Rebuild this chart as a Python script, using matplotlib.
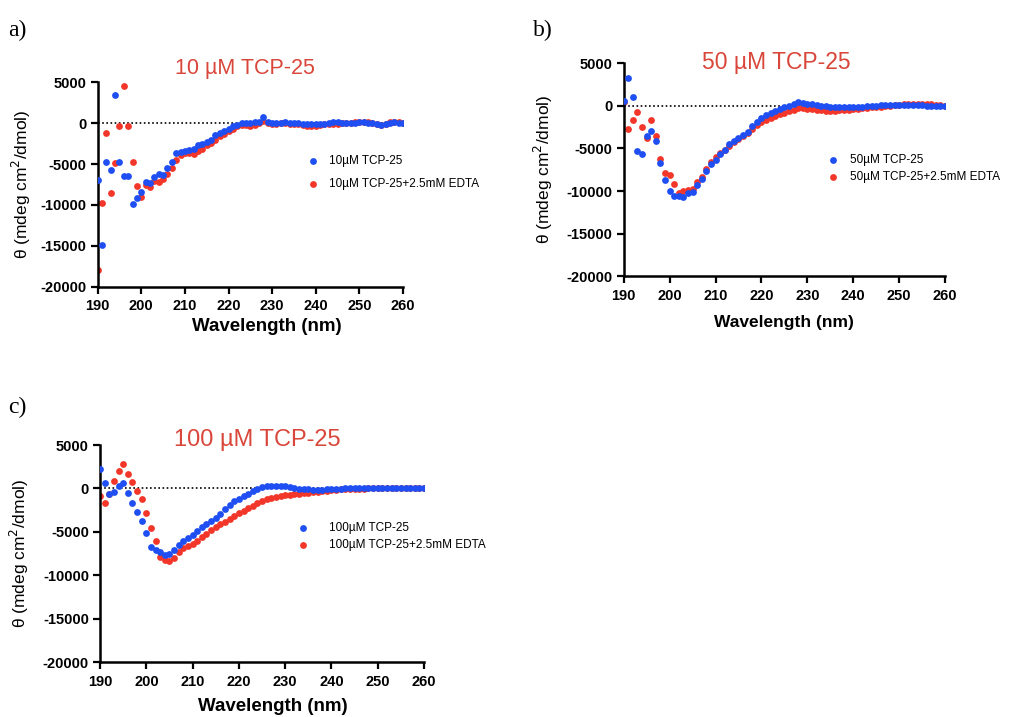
import numpy as np
import matplotlib.pyplot as plt

plt.rcParams['font.family'] = ['Liberation Sans', 'DejaVu Sans']
plt.rcParams['axes.unicode_minus'] = False

# CD spectra, one point per nm from 190 to 260 nm
wavelength = np.arange(190, 261)

a_tcp = [-6900, -14900, -4700, -5700, 3400, -4800, -6500, -6500, -9900, -9200,
         -8400, -7200, -7300, -6600, -6200, -6300, -5500, -4800, -3700, -3500,
         -3400, -3300, -3100, -2700, -2600, -2300, -2000, -1500, -1200, -900,
         -700, -400, -200, 0, 0, 50, 100, 200, 700, 200,
         0, 0, 50, 200, 50, 0, 0, -50, -50, -100,
         -100, -50, -50, 0, 100, 100, 50, 0, 0, 50,
         100, 100, 50, 0, -100, -200, -150, 0, 100, 50, 0]
a_edta = [-18000, -9800, -1200, -8500, -4900, -300, 4500, -300, -4700, -7700,
          -9000, -7500, -7800, -7100, -7200, -6800, -6200, -5500, -4500, -3900,
          -3700, -3600, -3800, -3400, -3100, -2700, -2400, -2000, -1600, -1300,
          -1000, -700, -400, -200, -250, -300, -200, 0, 250, 50,
          -50, -50, 0, 0, -50, -100, -150, -250, -350, -400,
          -300, -200, -150, -150, -100, -50, 0, 0, 50, 100,
          200, 200, 150, 50, -50, -200, -100, 100, 200, 100, 0]

b_tcp = [590, 3300, 1000, -5270, -5600, -3550, -3000, -4100, -6760, -8700,
         -10000, -10550, -10600, -10700, -10250, -10050, -9260, -8600, -7620, -6800,
         -6330, -5700, -5200, -4500, -4100, -3750, -3440, -3050, -2340, -1880,
         -1450, -1100, -850, -600, -400, -200, 0, 250, 450, 350,
         250, 150, 100, 0, -50, -100, -150, -150, -200, -200,
         -150, -150, -100, -50, 0, 0, 50, 100, 100, 100,
         100, 100, 100, 50, 50, 50, 0, -50, 0, 0, 0]
b_edta = [470, -2770, -1640, -780, -2460, -3750, -1680, -3550, -6200, -7930,
          -8100, -9150, -10250, -10000, -9850, -9700, -8900, -8360, -7400, -6560,
          -5980, -5550, -5200, -4700, -4300, -3900, -3600, -3200, -2700, -2260,
          -1900, -1700, -1400, -1200, -1000, -800, -600, -450, -300, -300,
          -350, -400, -500, -550, -600, -600, -600, -550, -500, -450,
          -400, -350, -300, -250, -200, -150, -100, -50, 0, 50,
          100, 150, 200, 250, 250, 250, 200, 150, 100, 50, 0]

c_tcp = [2280, 670, -590, -430, 280, 670, -470, -1650, -2760, -3740,
         -5120, -6800, -7050, -7280, -7680, -7520, -7130, -6570, -6020, -5700,
         -5400, -4920, -4450, -4050, -3740, -3350, -2950, -2360, -1890, -1500,
         -1180, -870, -590, -310, -80, 150, 250, 300, 300, 300,
         250, 150, 50, -50, -100, -100, -150, -150, -150, -100,
         -100, -50, -50, 0, 0, 50, 50, 50, 50, 50,
         50, 50, 50, 50, 50, 50, 50, 50, 50, 50, 50]
c_edta = [-870, -1690, -590, 900, 1970, 2870, 1650, 790, -310, -1260,
          -2830, -4600, -6100, -7950, -8270, -8350, -8070, -7280, -6900, -6690,
          -6420, -6020, -5630, -5240, -4840, -4450, -4130, -3820, -3500, -3150,
          -2870, -2560, -2240, -2000, -1700, -1400, -1250, -1100, -950, -850,
          -780, -720, -660, -600, -550, -500, -450, -380, -320, -260,
          -200, -160, -120, -100, -80, -60, -40, -20, 0, 0,
          0, 0, 50, 50, 50, 50, 50, 50, 50, 50, 50]

xticks = [190, 200, 210, 220, 230, 240, 250, 260]
yticks = [5000, 0, -5000, -10000, -15000, -20000]

blue = '#1f4ff2'
red = '#f2372a'
title_red = '#d9463a'

# per panel: letter, title, legend prefix, data, axes rect, letter pos,
# title centre (figure coords), title size, xlabel pos/size,
# legend anchor, legend spacing, legend text pad
panels = [
    dict(letter='a)', title='10 µM TCP-25', conc='10µM', tcp=a_tcp, edta=a_edta,
         rect=[0.0954, 0.6001, 0.2981, 0.2851], lpos=(0.008, 0.972),
         tpos=(0.239, 0.905), tsize=15.5, xlab=(0.555, -0.197), xsize=13.5,
         leg=(0.294, 0.792), lsp=0.95, lpad=0.9),
    dict(letter='b)', title='50 µM TCP-25', conc='50µM', tcp=b_tcp, edta=b_edta,
         rect=[0.6091, 0.6144, 0.3138, 0.2976], lpos=(0.520, 0.972),
         tpos=(0.758, 0.913), tsize=16.5, xlab=(0.5, -0.218), xsize=12.5,
         leg=(0.802, 0.794), lsp=0.45, lpad=0.9),
    dict(letter='c)', title='100 µM TCP-25', conc='100µM', tcp=c_tcp, edta=c_edta,
         rect=[0.0977, 0.0767, 0.3164, 0.3026], lpos=(0.008, 0.447),
         tpos=(0.251, 0.386), tsize=17, xlab=(0.534, -0.207), xsize=13.5,
         leg=(0.284, 0.280), lsp=0.45, lpad=1.7),
]

fig = plt.figure(figsize=(10.24, 7.17), dpi=100)

for p in panels:
    ax = fig.add_axes(p['rect'])
    ax.axhline(0, color='k', linestyle=(0, (1, 1.5)), linewidth=1.2, zorder=1)
    p_edta = ax.scatter(wavelength, p['edta'], s=24, color=red, linewidths=0, zorder=2)
    p_tcp = ax.scatter(wavelength, p['tcp'], s=24, color=blue, linewidths=0, zorder=3)

    ax.set_xlim(190, 260)
    ax.set_ylim(-20000, 5000)
    ax.set_xticks(xticks)
    ax.set_xticklabels([str(t) for t in xticks], fontsize=10.5, fontweight='bold')
    ax.set_yticks(yticks)
    ax.set_yticklabels([str(t) for t in yticks], fontsize=10.5, fontweight='bold')
    ax.tick_params(direction='out', length=5, width=1.6)
    ax.tick_params(axis='x', pad=4)
    ax.tick_params(axis='y', pad=3)
    for side in ['top', 'right']:
        ax.spines[side].set_visible(False)
    for side in ['left', 'bottom']:
        ax.spines[side].set_linewidth(1.8)

    ax.set_xlabel('Wavelength (nm)', fontsize=p['xsize'], fontweight='bold', va='center')
    ax.xaxis.set_label_coords(*p['xlab'])
    ax.set_ylabel('θ (mdeg cm$^2$/dmol)', fontsize=12.5, va='center')
    ax.yaxis.set_label_coords(-0.25, 0.5)

    fig.text(p['tpos'][0], p['tpos'][1], p['title'], color=title_red,
             fontsize=p['tsize'], ha='center', va='center')
    fig.text(p['lpos'][0], p['lpos'][1], p['letter'], fontsize=17,
             family='Liberation Serif', va='top', ha='left')

    ax.legend([p_tcp, p_edta], [p['conc'] + ' TCP-25', p['conc'] + ' TCP-25+2.5mM EDTA'],
              loc='upper left', bbox_to_anchor=p['leg'],
              bbox_transform=fig.transFigure, frameon=False, fontsize=8.5,
              handletextpad=p['lpad'], labelspacing=p['lsp'], borderpad=0,
              handlelength=1.0, markerscale=1.0)

fig.savefig('out.png', dpi=100)
